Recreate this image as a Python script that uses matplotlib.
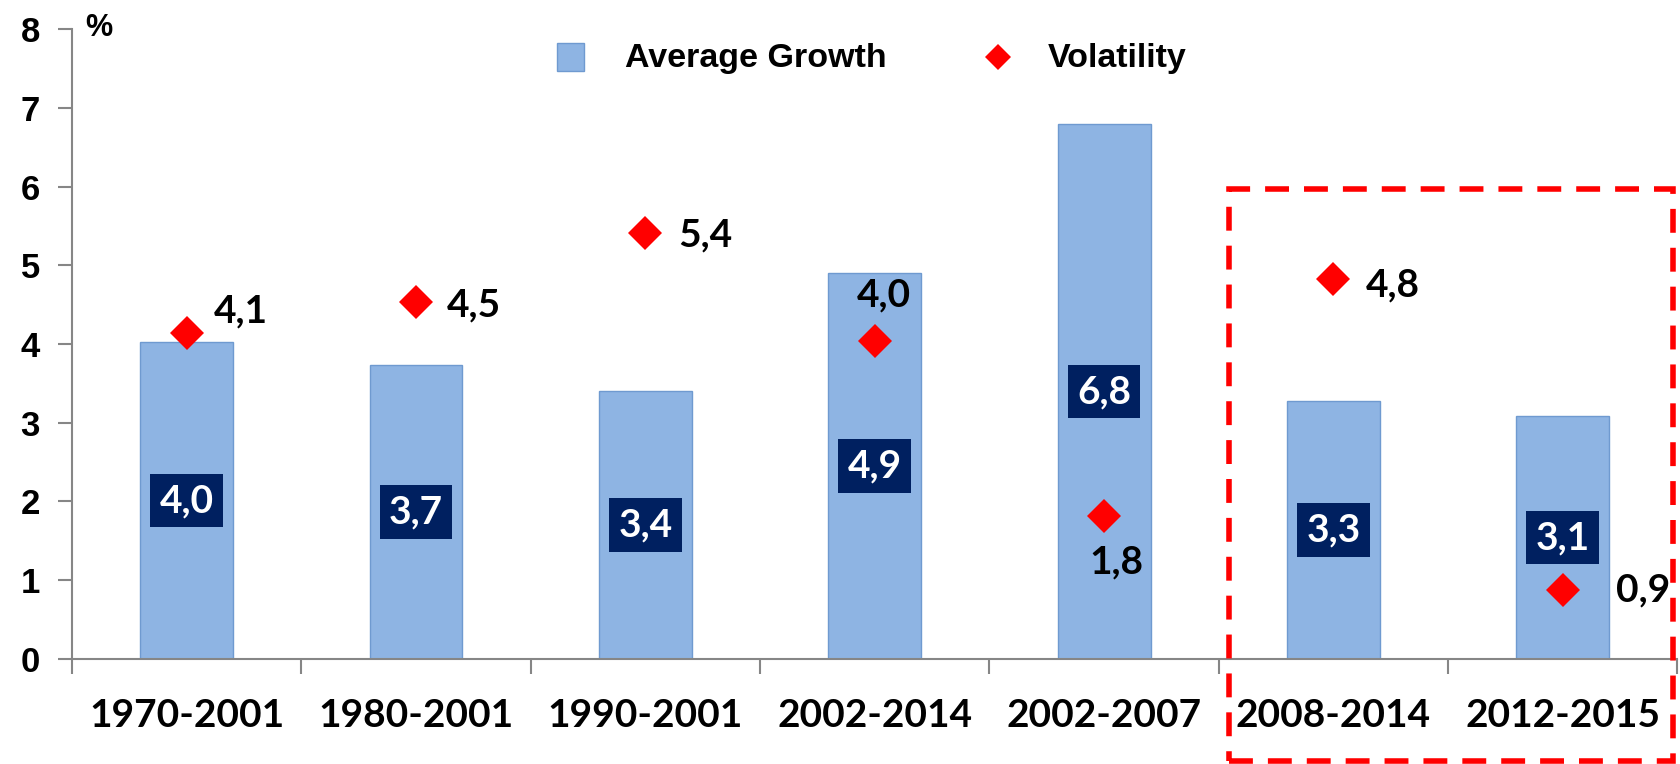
import matplotlib
matplotlib.use('Agg')
import matplotlib.pyplot as plt
from matplotlib.patches import Rectangle
from matplotlib.lines import Line2D
import numpy as np

# ---- data ----
categories = ['1970-2001', '1980-2001', '1990-2001', '2002-2014',
              '2002-2007', '2008-2014', '2012-2015']
growth = [4.02, 3.73, 3.40, 4.90, 6.79, 3.27, 3.08]
volatility = [4.14, 4.53, 5.41, 4.04, 1.82, 4.83, 0.87]
y_ticks = [0, 1, 2, 3, 4, 5, 6, 7, 8]
legend_labels = ['Average Growth', 'Volatility']

# label offsets (pixels) for the volatility values
vol_label_offsets = [(54, 22), (58, -3), (60, -2), (9, 46), (12, -46), (59, -6), (80, 0)]

BAR_COLOR = '#8EB4E3'
BAR_EDGE = '#6F9AD0'
NAVY = '#002060'
RED = '#FF0000'
AXIS_GRAY = '#868686'
W, H = 1681, 764

def fmt(v):
    return f"{v:.1f}".replace('.', ',')

fig = plt.figure(figsize=(W / 100, H / 100), dpi=100)
ax = fig.add_axes([72 / W, 1 - 658.8 / H, (1677.5 - 72) / W, (658.8 - 29.2) / H])

x = np.arange(len(categories))
ax.bar(x, growth, width=0.405, color=BAR_COLOR, edgecolor=BAR_EDGE,
       linewidth=1.0, zorder=2)
ax.plot(x, volatility, linestyle='none', marker='D', ms=17.5, color=RED,
        markeredgewidth=0, zorder=5)

# growth labels in navy boxes
for xi, g in zip(x, growth):
    ax.text(xi, g / 2, fmt(g), ha='center', va='center', color='white',
            fontsize=28, fontweight='bold', family='Lato',
            bbox=dict(boxstyle='square,pad=0.24', fc=NAVY, ec='none'), zorder=4)

# volatility labels
for xi, v, (dx, dy) in zip(x, volatility, vol_label_offsets):
    ax.annotate(fmt(v), (xi, v), xytext=(dx, dy), textcoords='offset pixels',
                ha='center', va='center', fontsize=28, fontweight='bold',
                family='Lato', color='black', zorder=6)

ax.set_xlim(-0.5, len(categories) - 0.5)
ax.set_ylim(0, 8)

for s in ['top', 'right']:
    ax.spines[s].set_visible(False)
for s in ['left', 'bottom']:
    ax.spines[s].set_color(AXIS_GRAY)
    ax.spines[s].set_linewidth(1.5)

ax.set_yticks(y_ticks)
ax.set_yticklabels([str(t) for t in y_ticks])
ax.tick_params(axis='y', direction='out', length=10, width=1.5, color=AXIS_GRAY,
               pad=13, labelsize=25)
for lab in ax.get_yticklabels():
    lab.set_fontweight('bold')
    lab.set_family('Liberation Sans')

ax.set_xticks(x)
ax.set_xticklabels(categories)
ax.set_xticks(np.arange(-0.5, len(categories), 1.0), minor=True)
ax.tick_params(axis='x', which='major', length=0, pad=28, labelsize=28)
ax.tick_params(axis='x', which='minor', direction='out', length=11, width=1.5,
               color=AXIS_GRAY)
for lab in ax.get_xticklabels():
    lab.set_fontweight('bold')
    lab.set_family('Lato')

# "%" unit label
fig.text(99 / W, 1 - 35.5 / H, '%', ha='center', va='baseline', fontsize=22,
         fontweight='bold', family='Liberation Sans')

# legend (manual)
fig.add_artist(Rectangle((557 / W, 1 - 71 / H), 27 / W, 28 / H,
                         transform=fig.transFigure, fc=BAR_COLOR, ec=BAR_EDGE, lw=1.0))
fig.text(625 / W, 1 - 66.5 / H, legend_labels[0], ha='left', va='baseline',
         fontsize=24.5, fontweight='bold', family='Liberation Sans')
fig.add_artist(Line2D([998 / W], [1 - 57 / H], marker='D', ms=13.2, color=RED,
                      markeredgewidth=0, linestyle='none', transform=fig.transFigure))
fig.text(1048 / W, 1 - 66.5 / H, legend_labels[1], ha='left', va='baseline',
         fontsize=24.5, fontweight='bold', family='Liberation Sans')

# red dashed highlight box
box = Rectangle((1229 / W, 1 - 761 / H), (1673 - 1229) / W, (761 - 189) / H,
                transform=fig.transFigure, fill=False, ec=RED, lw=4,
                linestyle=(0, (4.3, 2.7)), clip_on=False, zorder=10)
fig.add_artist(box)

fig.savefig('out.png', dpi=100)
